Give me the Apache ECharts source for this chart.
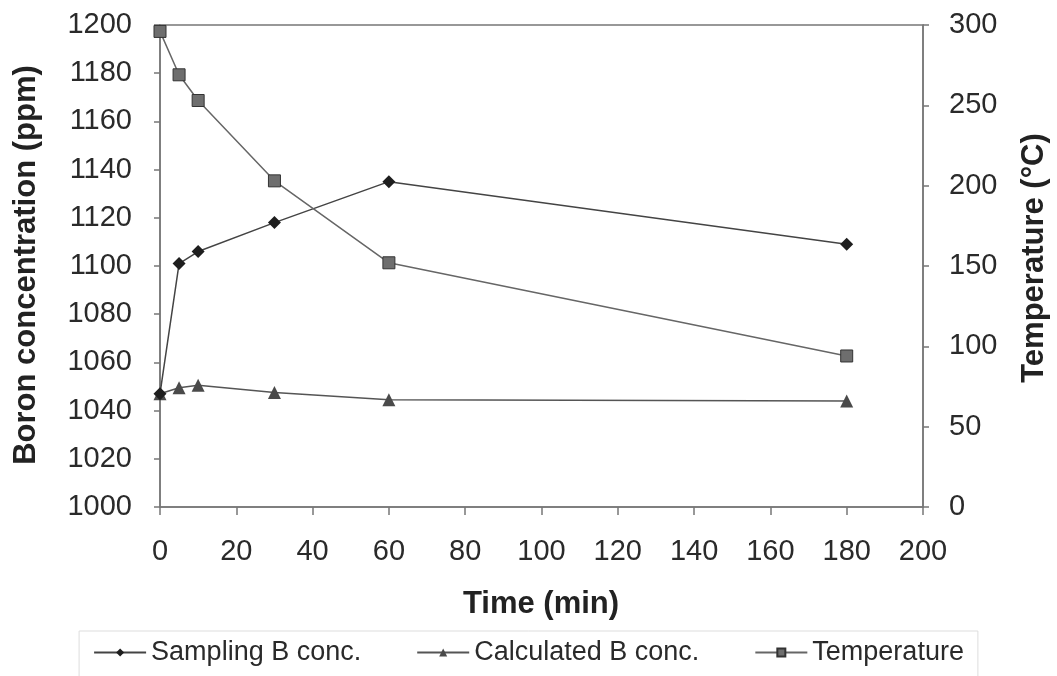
<!DOCTYPE html>
<html>
<head>
<meta charset="utf-8">
<script src="https://cdn.jsdelivr.net/npm/echarts@6/dist/echarts.min.js"></script>
<style>
  html, body { margin: 0; padding: 0; background: #fff; }
  #chart { width: 1057px; height: 676px; }
</style>
</head>
<body>
<div id="chart"></div>
<script>
// time (min)
const times = [0, 5, 10, 30, 60, 180];
const sampling = [1047, 1101, 1106, 1118, 1135, 1109];
const calculated = [1047, 1049.5, 1050.5, 1047.5, 1044.5, 1044];
const temperature = [296, 269, 253, 203, 152, 94];

const pairs = (ys) => times.map((t, i) => [t, ys[i]]);

const font = '"Liberation Sans", Arial, sans-serif';
const textColor = '#2a2a2a';
const titleColor = '#222';
const axisColor = '#777';

const chart = echarts.init(document.getElementById('chart'));

const tickLabel = (margin) => ({
  fontSize: 29, color: textColor, margin: margin, fontFamily: font,
  formatter: (v) => String(v)
});

chart.setOption({
  backgroundColor: '#fff',
  animation: false,
  textStyle: { fontFamily: font },
  grid: {
    left: 160, right: 134, top: 25, bottom: 169,
    show: true, borderColor: axisColor, borderWidth: 1.5
  },
  xAxis: {
    type: 'value',
    min: 0, max: 200, interval: 20,
    axisLine: { show: true, lineStyle: { color: axisColor, width: 1.5 } },
    axisTick: { show: true, length: 8, lineStyle: { color: axisColor, width: 1.5 } },
    axisLabel: tickLabel(30),
    splitLine: { show: false }
  },
  yAxis: [
    {
      type: 'value',
      min: 1000, max: 1200, interval: 20,
      axisLine: { show: true, lineStyle: { color: axisColor, width: 1.5 } },
      axisTick: { show: true, length: 6, lineStyle: { color: axisColor, width: 1.5 } },
      axisLabel: tickLabel(28),
      splitLine: { show: false }
    },
    {
      type: 'value',
      min: 0, max: 300, interval: 50,
      position: 'right',
      axisLine: { show: true, lineStyle: { color: axisColor, width: 1.5 } },
      axisTick: { show: true, length: 6, lineStyle: { color: axisColor, width: 1.5 } },
      axisLabel: tickLabel(26),
      splitLine: { show: false }
    }
  ],
  graphic: [
    {
      type: 'text',
      x: 26, y: 265,
      rotation: Math.PI / 2,
      style: {
        text: 'Boron concentration (ppm)',
        font: 'bold 31px ' + font,
        fill: titleColor,
        textAlign: 'center',
        textVerticalAlign: 'middle'
      }
    },
    {
      type: 'text',
      x: 1034, y: 258,
      rotation: Math.PI / 2,
      style: {
        text: 'Temperature (°C)',
        font: 'bold 31px ' + font,
        fill: titleColor,
        textAlign: 'center',
        textVerticalAlign: 'middle'
      }
    },
    {
      type: 'text',
      x: 541, y: 604,
      style: {
        text: 'Time (min)',
        font: 'bold 31px ' + font,
        fill: titleColor,
        textAlign: 'center',
        textVerticalAlign: 'middle'
      }
    }
  ],
  legend: {
    top: 631,
    left: 'center',
    itemWidth: 52,
    itemHeight: 10,
    itemGap: 55,
    padding: [8, 14, 12, 14],
    borderColor: '#ddd',
    borderWidth: 1,
    textStyle: { fontSize: 27, color: textColor, fontFamily: font },
    data: ['Sampling B conc.', 'Calculated B conc.', 'Temperature']
  },
  series: [
    {
      name: 'Sampling B conc.',
      type: 'line',
      yAxisIndex: 0,
      data: pairs(sampling),
      symbol: 'diamond',
      symbolSize: 13,
      lineStyle: { color: '#444', width: 1.5 },
      itemStyle: { color: '#1e1e1e' },
      z: 3
    },
    {
      name: 'Calculated B conc.',
      type: 'line',
      yAxisIndex: 0,
      data: pairs(calculated),
      symbol: 'triangle',
      symbolSize: 13,
      lineStyle: { color: '#555', width: 1.5 },
      itemStyle: { color: '#4a4a4a' },
      z: 2
    },
    {
      name: 'Temperature',
      type: 'line',
      yAxisIndex: 1,
      data: pairs(temperature),
      symbol: 'rect',
      symbolSize: 12,
      lineStyle: { color: '#666', width: 1.5 },
      itemStyle: { color: '#6e6e6e', borderColor: '#333', borderWidth: 1 },
      z: 4
    }
  ]
});
</script>
</body>
</html>
